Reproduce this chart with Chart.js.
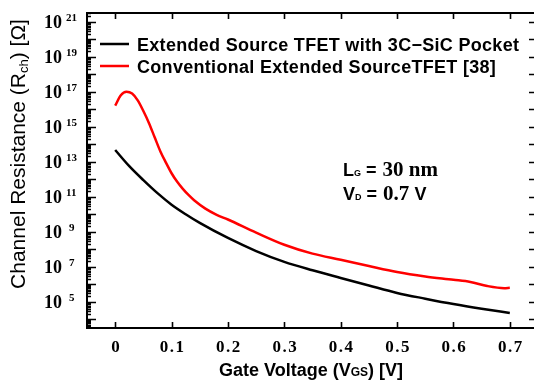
<!DOCTYPE html>
<html><head><meta charset="utf-8">
<script src="https://cdn.jsdelivr.net/npm/chart.js@4.4.0/dist/chart.umd.min.js"></script>
<style>html,body{margin:0;padding:0;overflow:hidden;background:#fff;width:534px;height:381px}canvas{display:block}</style>
</head><body>
<canvas id="c" width="560" height="381"></canvas>
<script>
// ---- data ----
const vgsBlack = [0.0, 0.025, 0.05, 0.075, 0.1, 0.125, 0.15, 0.2, 0.25, 0.3, 0.35, 0.4, 0.45, 0.5, 0.55, 0.6, 0.65, 0.7];
const rBlack   = [4.7e13, 5.6e12, 8.9e11, 1.6e11, 3.5e10, 1.0e10, 3.2e9, 4.4e8, 7.9e7, 1.9e7, 6.3e6, 2.3e6, 8.5e5, 3.2e5, 1.5e5, 7.4e4, 4.0e4, 2.3e4];
const vgsRed   = [0.0, 0.01, 0.02, 0.03, 0.04, 0.05, 0.06, 0.07, 0.08, 0.09, 0.1, 0.11, 0.12, 0.13, 0.14, 0.16, 0.18, 0.2, 0.25, 0.3, 0.35, 0.4, 0.45, 0.5, 0.55, 0.6, 0.63, 0.66, 0.69, 0.7];
const rRed     = [1.6e16, 6.3e16, 1.0e17, 7.9e16, 3.2e16, 7.9e15, 1.6e15, 2.5e14, 4.0e13, 8.9e12, 2.2e12, 7.1e11, 2.8e11, 1.26e11, 6.3e10, 2.1e10, 9.3e9, 5.0e9, 8.9e8, 1.8e8, 5.6e7, 2.5e7, 1.1e7, 5.0e6, 2.8e6, 1.8e6, 1.35e6, 7.9e5, 6.0e5, 6.3e5];
const seriesNames = ['Extended Source TFET with 3C\u2212SiC Pocket', 'Conventional Extended SourceTFET [38]'];
const seriesColors = ['#000000', '#ff0000'];
const xTickValues = [0, 0.1, 0.2, 0.3, 0.4, 0.5, 0.6, 0.7];
const xTickLabels = ['0', '0.1', '0.2', '0.3', '0.4', '0.5', '0.6', '0.7'];
const yMajorExponents = [4, 5, 6, 7, 8, 9, 10, 11, 12, 13, 14, 15, 16, 17, 18, 19, 20, 21];
const yLabelExponents = [5, 7, 9, 11, 13, 15, 17, 19, 21];
const xRange = [-0.05, 0.75];
const yRange = [3162, 3.162e21];

function toPts(xs, ys){ return xs.map((x,i)=>({x:x, y:ys[i]})); }

function drawRich(ctx, parts, x, y, align){
  let w = 0;
  parts.forEach(p=>{ ctx.font = p.f; w += ctx.measureText(p.t).width + (p.gap||0); });
  let cx = align==='center' ? x - w/2 : (align==='right' ? x - w : x);
  ctx.textAlign = 'left'; ctx.textBaseline = 'alphabetic';
  parts.forEach(p=>{ ctx.font = p.f; ctx.fillStyle = p.c || '#000'; ctx.fillText(p.t, cx, y + (p.dy||0)); cx += ctx.measureText(p.t).width + (p.gap||0); });
}

const SERIF = '"Liberation Serif", "Times New Roman", serif';
const SANS = '"Liberation Sans", Arial, sans-serif';

const framePlugin = {
  id: 'frame',
  afterDraw(chart){
    const ctx = chart.ctx, a = chart.chartArea;
    const xs = chart.scales.x, ys = chart.scales.y;
    ctx.save();
    ctx.strokeStyle = '#000'; ctx.lineWidth = 2;
    ctx.strokeRect(a.left, a.top, a.right - a.left, a.bottom - a.top);
    ctx.lineWidth = 1.6;
    ctx.beginPath();
    xTickValues.forEach(v=>{
      const px = Math.round(xs.getPixelForValue(v)) + 0.5;
      ctx.moveTo(px, a.top); ctx.lineTo(px, a.top + 6);
      ctx.moveTo(px, a.bottom); ctx.lineTo(px, a.bottom - 6);
    });
    yMajorExponents.forEach(e=>{
      for (let m = 1; m <= 9; m++){
        const val = m * Math.pow(10, e);
        if (val < yRange[0] || val > yRange[1]) continue;
        const py = Math.round(ys.getPixelForValue(val)) + 0.5;
        const len = m === 1 ? 9 : 4;
        ctx.moveTo(a.left, py); ctx.lineTo(a.left + len, py);
        ctx.moveTo(a.right, py); ctx.lineTo(a.right - len, py);
      }
    });
    for (let m = 4; m <= 9; m++){
      const val = m * 1000; if (val < yRange[0]) continue;
      const py = Math.round(ys.getPixelForValue(val)) + 0.5;
      ctx.moveTo(a.left, py); ctx.lineTo(a.left + 4, py);
      ctx.moveTo(a.right, py); ctx.lineTo(a.right - 4, py);
    }
    ctx.stroke();

    ctx.fillStyle = '#000';
    ctx.font = 'bold 17px ' + SERIF;
    ctx.textAlign = 'center'; ctx.textBaseline = 'alphabetic';
    ctx.letterSpacing = '1.5px';
    xTickValues.forEach((v,i)=>{ ctx.fillText(xTickLabels[i], xs.getPixelForValue(v) + 1, 352); });
    ctx.letterSpacing = '0px';

    yLabelExponents.forEach(e=>{
      const py = ys.getPixelForValue(Math.pow(10, e));
      ctx.font = 'bold 18px ' + SERIF; ctx.textAlign = 'right';
      ctx.fillText('10', 62, py + 6);
      ctx.font = 'bold 11px ' + SERIF; ctx.textAlign = 'left';
      ctx.fillText(String(e), String(e).length > 1 ? 66 : 69, py - 1);
    });

    drawRich(ctx, [
      {t:'Gate Voltage (V', f:'bold 18px ' + SANS},
      {t:'GS', f:'bold 12px ' + SANS},
      {t:') [V]', f:'bold 18px ' + SANS}
    ], 311, 376, 'center');

    ctx.save();
    ctx.translate(25, 154);
    ctx.rotate(-Math.PI/2);
    drawRich(ctx, [
      {t:'Channel Resistance (R', f:'21px ' + SANS},
      {t:'ch', f:'13px ' + SANS, dy:3},
      {t:') [\u03A9]', f:'21px ' + SANS}
    ], 0, 0, 'center');
    ctx.restore();

    ctx.lineWidth = 2.5;
    [44, 66].forEach((ly, i)=>{
      ctx.strokeStyle = seriesColors[i];
      ctx.beginPath(); ctx.moveTo(100, ly); ctx.lineTo(129, ly); ctx.stroke();
      ctx.fillStyle = '#000';
      ctx.font = 'bold 18px ' + SANS; ctx.textAlign = 'left';
      ctx.letterSpacing = '0.3px';
      ctx.fillText(seriesNames[i], 137, ly + 7);
      ctx.letterSpacing = '0px';
    });

    drawRich(ctx, [
      {t:'L', f:'bold 18px ' + SANS},
      {t:'G', f:'bold 9px ' + SANS, gap:5},
      {t:'= ', f:'bold 18px ' + SANS, gap:1},
      {t:'30 nm', f:'bold 21px ' + SERIF}
    ], 343, 176, 'left');
    drawRich(ctx, [
      {t:'V', f:'bold 18px ' + SANS},
      {t:'D', f:'bold 9px ' + SANS, gap:5},
      {t:'= ', f:'bold 18px ' + SANS, gap:1},
      {t:'0.7 ', f:'bold 21px ' + SERIF},
      {t:'V', f:'bold 18px ' + SANS}
    ], 343, 200, 'left');
    ctx.restore();
  }
};

new Chart(document.getElementById('c'), {
  type: 'line',
  data: {
    datasets: [
      {label: seriesNames[0], data: toPts(vgsBlack, rBlack), borderColor: seriesColors[0], borderWidth: 2.5, pointRadius: 0, cubicInterpolationMode: 'monotone', fill: false},
      {label: seriesNames[1], data: toPts(vgsRed, rRed), borderColor: seriesColors[1], borderWidth: 2.5, pointRadius: 0, cubicInterpolationMode: 'monotone', fill: false}
    ]
  },
  options: {
    responsive: false,
    animation: false,
    devicePixelRatio: 1,
    layout: {padding: {left: 87, top: 13, right: 22, bottom: 53}},
    plugins: {legend: {display: false}, tooltip: {enabled: false}},
    scales: {
      x: {type: 'linear', min: xRange[0], max: xRange[1], display: false},
      y: {type: 'logarithmic', min: yRange[0], max: yRange[1], display: false}
    }
  },
  plugins: [framePlugin]
});
</script>
</body></html>
